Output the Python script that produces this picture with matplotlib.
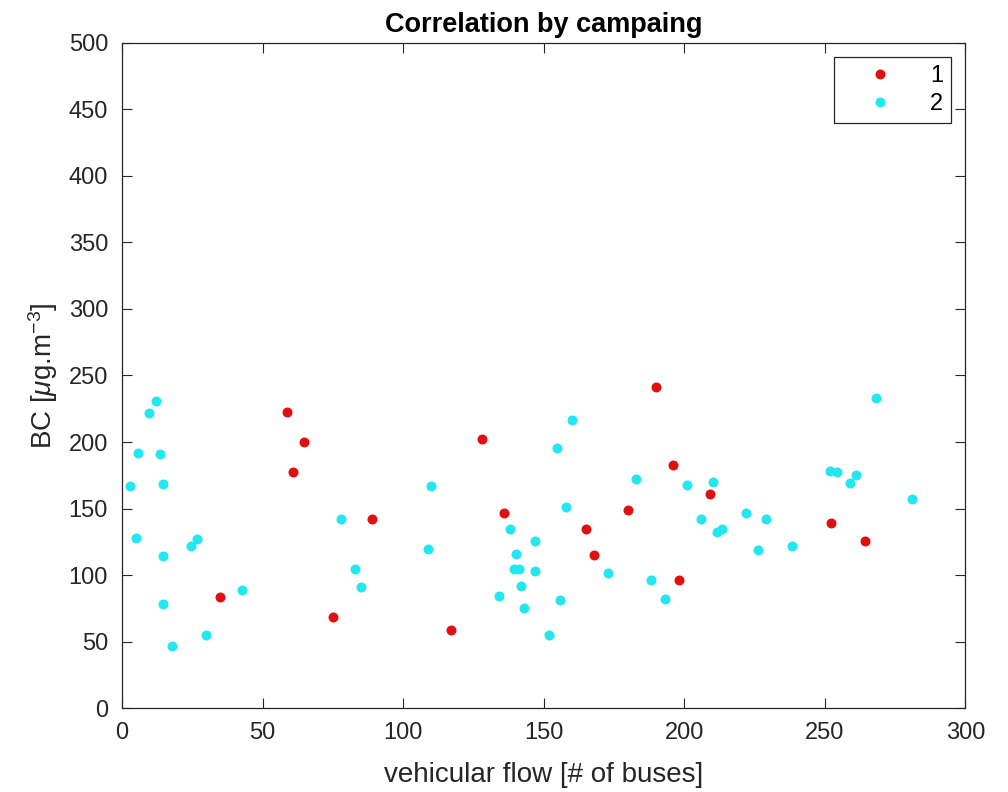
import numpy as np
import matplotlib
matplotlib.use("Agg")
import matplotlib.pyplot as plt

plt.rcParams['font.family'] = ['Liberation Sans', 'DejaVu Sans']
plt.rcParams['mathtext.fontset'] = 'custom'
plt.rcParams['mathtext.rm'] = 'Liberation Sans'
plt.rcParams['mathtext.it'] = 'Liberation Sans:italic'

# campaign 1 (red)
flow_1 = [34.9, 58.8, 64.9, 60.7, 75.0, 88.8, 116.9, 128.0, 135.8, 165.0,
          167.9, 180.1, 190.1, 196.0, 209.1, 198.2, 252.1, 264.2]
bc_1 = [83.4, 222.8, 199.8, 177.3, 68.6, 142.4, 58.8, 202.1, 147.0, 134.5,
        115.2, 149.0, 241.2, 182.6, 160.8, 96.4, 139.0, 125.9]

# campaign 2 (cyan)
flow_2 = [12.0, 9.6, 5.8, 13.6, 2.8, 14.7, 4.9, 14.7, 24.5, 26.8, 14.7, 17.8,
          29.8, 42.8, 77.8, 82.8, 84.9, 109.9, 108.8, 137.9, 147.0, 140.1,
          139.5, 141.3, 147.0, 141.9, 134.0, 143.0, 154.9, 160.0, 158.0,
          155.9, 151.9, 172.9, 182.9, 268.1, 201.1, 210.2, 206.0, 211.8,
          213.3, 222.0, 229.2, 226.1, 238.2, 251.9, 254.5, 261.1, 259.1,
          281.1, 188.1, 193.1]
bc_2 = [231.1, 221.6, 191.6, 191.1, 167.0, 168.3, 128.2, 114.4, 122.2, 127.0,
        78.1, 46.8, 54.8, 88.9, 142.4, 104.4, 90.9, 167.2, 119.5, 134.9,
        125.7, 116.2, 104.4, 104.4, 103.4, 92.1, 84.4, 75.6, 195.6, 216.8,
        151.2, 81.6, 54.8, 101.7, 172.3, 233.4, 168.0, 170.0, 142.2, 132.7,
        134.7, 147.0, 142.4, 119.2, 122.2, 178.3, 177.5, 175.1, 169.0,
        157.3, 96.6, 82.1]

fig = plt.figure(figsize=(10.08, 7.92), dpi=100)
ax = fig.add_axes([0.121, 0.1057, 0.8367, 0.8404])

ax.plot(flow_1, bc_1, 'o', color='#e01010', ms=7.2, mew=0, label='1')
ax.plot(flow_2, bc_2, 'o', color='#22e6f0', ms=7.2, mew=0, label='2')

ax.set_xlim(0, 300)
ax.set_ylim(0, 500)
ax.set_xticks(np.arange(0, 301, 50))
ax.set_yticks(np.arange(0, 501, 50))
ax.tick_params(direction='in', top=True, right=True, length=7, width=0.8,
               labelsize=17, colors='#262626', pad=10)
for s in ax.spines.values():
    s.set_color('#262626')
    s.set_linewidth(0.9)

ax.set_title('Correlation by campaing', fontsize=19.5, fontweight='bold', pad=8)
ax.set_xlabel('vehicular flow [# of buses]', fontsize=20, color='#262626', labelpad=13)
ax.set_ylabel(r'BC [$\mu$g.m$^{-3}$]', fontsize=20, color='#262626', labelpad=6)

leg = ax.legend(loc='upper right', fontsize=17, fancybox=False, edgecolor='#262626',
                framealpha=1, borderpad=0.35, handletextpad=0.5, handlelength=3.2,
                labelspacing=0.25, borderaxespad=0.6, markerfirst=True)
leg.get_frame().set_linewidth(0.9)

fig.savefig('out.png', dpi=100)
